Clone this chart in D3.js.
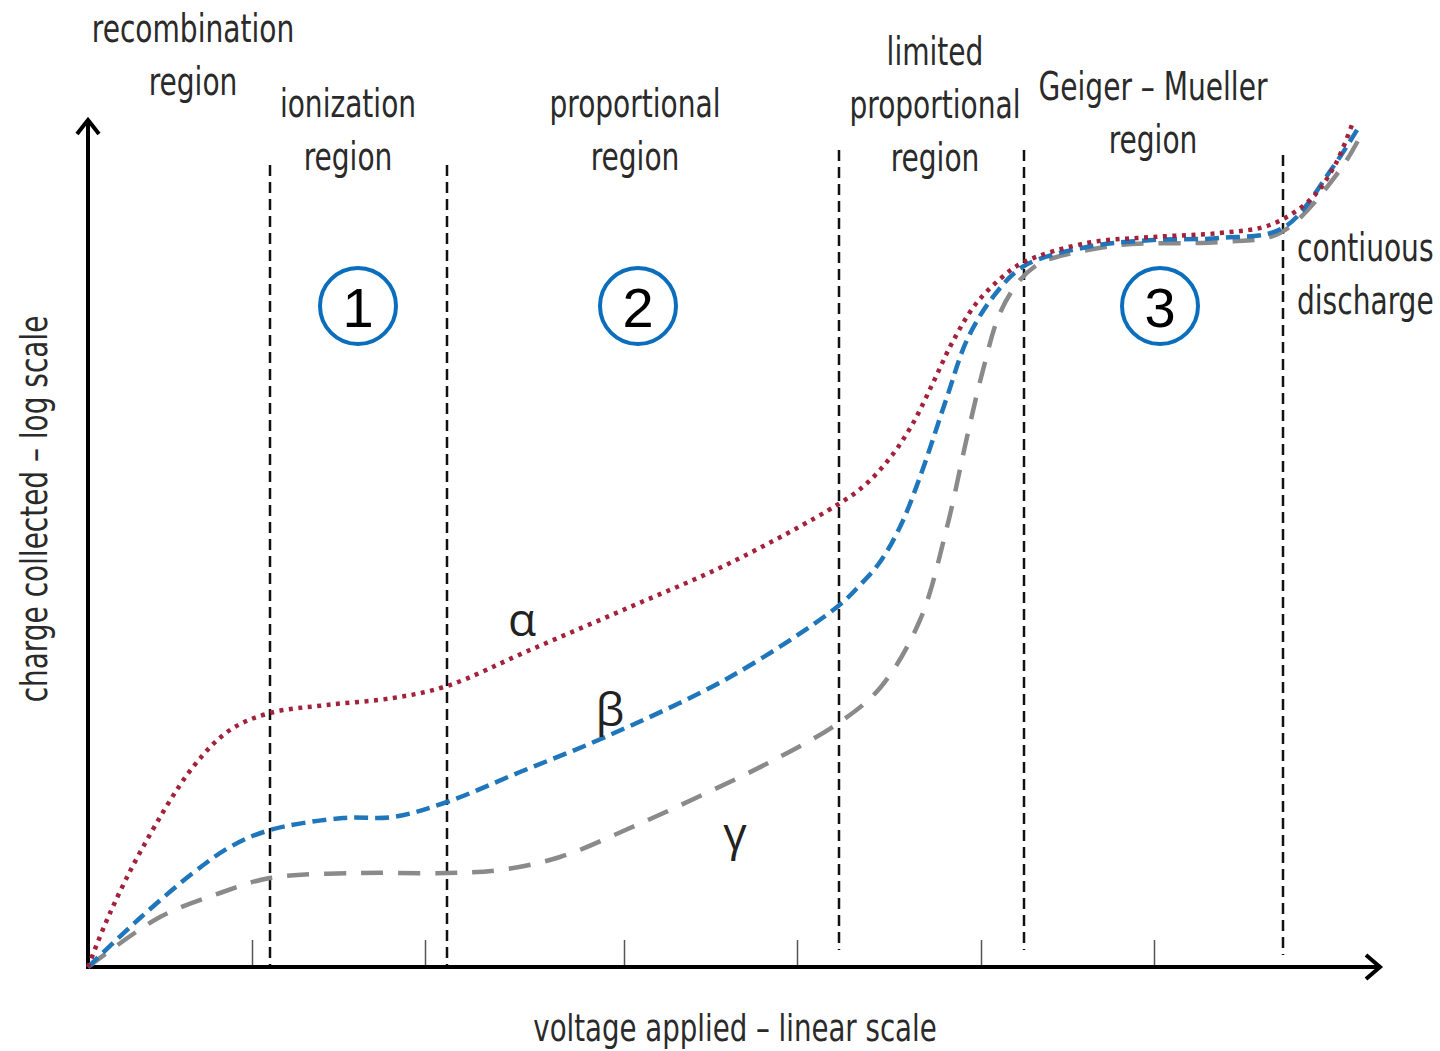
<!DOCTYPE html>
<html>
<head>
<meta charset="utf-8">
<script src="https://cdn.jsdelivr.net/npm/d3@7"></script>
<style>
  body { margin: 0; background: #fff; }
  text.lbl { font-family: "DejaVu Sans Condensed", "DejaVu Sans", sans-serif; fill: #2a2a2a; }
</style>
</head>
<body>
<div id="chart"></div>
<script>
// curves: [voltage, charge] (arbitrary units)
const alpha = [[0,0],[22,54],[55,120],[105,200],[142,237],[182,254],[239,262],[305,269],[359,281],
  [442,317],[542,360],[642,404],[749,462],[777,482],[802,509],[824,542],[844,582],[864,624],
  [887,662],[912,688],[936,705],[999,724],[1065,730],[1132,734],[1182,742],[1222,767],[1247,802],[1265,845]]
const beta = [[0,0],[52,49],[105,94],[142,120],[182,137],[255,149],[305,150],[359,165],[432,195],
  [515,229],[642,290],[749,360],[772,382],[792,405],[812,440],[832,490],[859,570],[879,627],
  [905,670],[936,701],[999,720],[1065,727],[1132,729],[1195,739],[1245,800],[1272,842]]
const gamma = [[0,0],[72,50],[132,74],[182,89],[272,94],[359,94],[412,97],[472,110],[542,139],
  [612,171],[682,205],[749,243],[792,279],[832,347],[859,440],[879,530],[895,597],[912,654],
  [932,687],[952,704],[965,709],[1032,722],[1132,725],[1192,734],[1252,797],[1274,834]]

// region boundaries (voltage) and their vertical extent (charge)
const boundaries = [182, 359, 751, 936, 1195]
const boundaryTop = [802, 802, 817, 817, 812]
const boundaryBottom = [2, 2, 17, 17, 12]
const minorTicks = [164, 337, 536, 709, 893, 1066]

const regionLabels = [
  { lines: ["recombination", "region"], v: 105, c: 925 },
  { lines: ["ionization", "region"], v: 260, c: 850 },
  { lines: ["proportional", "region"], v: 547, c: 850 },
  { lines: ["limited", "proportional", "region"], v: 847, c: 902 },
  { lines: ["Geiger – Mueller", "region"], v: 1065, c: 867 },
]
const sideLabel = { lines: ["contiuous", "discharge"], v: 1209, c: 706 }
const numbers = [{ n: "1", v: 270 }, { n: "2", v: 550 }, { n: "3", v: 1072 }]
const greek = [{ t: "α", v: 434, c: 331 }, { t: "β", v: 522, c: 241 }, { t: "γ", v: 647, c: 117 }]

const width = 1440, height = 1051
const x = d3.scaleLinear().domain([0, 1292]).range([88, 1380])
const y = d3.scaleLinear().domain([0, 847]).range([967, 120])

const svg = d3.select("#chart").append("svg")
  .attr("width", width).attr("height", height)

// minor ticks along the voltage axis
const axis = d3.axisBottom(x).tickValues(minorTicks).tickSize(-27).tickFormat("")
svg.append("g").attr("transform", `translate(0,${y(0)})`).call(axis)
  .call(g => g.select(".domain").remove())
  .selectAll("line").attr("stroke", "#555").attr("stroke-width", 1.5)

// dashed region boundaries
svg.selectAll("line.bound").data(boundaries).enter().append("line")
  .attr("class", "bound")
  .attr("x1", d => x(d)).attr("x2", d => x(d))
  .attr("y1", (d, i) => y(boundaryTop[i])).attr("y2", (d, i) => y(boundaryBottom[i]))
  .attr("stroke", "#111").attr("stroke-width", 2.5).attr("stroke-dasharray", "11,6")

// axes with open arrowheads
const axisPath = d3.path()
axisPath.moveTo(x(0), y(847)); axisPath.lineTo(x(0), y(0)); axisPath.lineTo(x(1292), y(0))
svg.append("path").attr("d", axisPath.toString()).attr("fill", "none")
  .attr("stroke", "#000").attr("stroke-width", 4)
const arrows = d3.path()
arrows.moveTo(x(0) - 11, y(847) + 14); arrows.lineTo(x(0), y(847)); arrows.lineTo(x(0) + 11, y(847) + 14)
arrows.moveTo(x(1292) - 14, y(0) - 12); arrows.lineTo(x(1292), y(0)); arrows.lineTo(x(1292) - 14, y(0) + 12)
svg.append("path").attr("d", arrows.toString()).attr("fill", "none")
  .attr("stroke", "#000").attr("stroke-width", 4).attr("stroke-linejoin", "miter")

// curves
const line = d3.line().x(d => x(d[0])).y(d => y(d[1])).curve(d3.curveCatmullRom.alpha(0.5))
const series = [
  { data: gamma, color: "#8a8a8a", dash: "22,15" },
  { data: beta, color: "#1f76bb", dash: "14,7" },
  { data: alpha, color: "#a3213a", dash: "4,5.5" },
]
svg.selectAll("path.curve").data(series).enter().append("path")
  .attr("class", "curve")
  .attr("d", d => line(d.data))
  .attr("fill", "none")
  .attr("stroke", d => d.color)
  .attr("stroke-width", 4.5)
  .attr("stroke-dasharray", d => d.dash)

// greek labels
svg.selectAll("text.greek").data(greek).enter().append("text")
  .attr("x", d => x(d.v)).attr("y", d => y(d.c))
  .attr("text-anchor", "middle")
  .style("font-family", "'Open Sans', 'Noto Sans', sans-serif")
  .style("font-size", "46px").attr("fill", "#222")
  .text(d => d.t)

// numbered circles
const circ = svg.selectAll("g.num").data(numbers).enter().append("g")
  .attr("transform", d => `translate(${x(d.v)},${y(661)})`)
circ.append("circle").attr("r", 38).attr("fill", "#fff")
  .attr("stroke", "#0a6ebd").attr("stroke-width", 4)
circ.append("text").attr("text-anchor", "middle").attr("y", 21)
  .style("font-family", "'Liberation Sans', Arial, sans-serif").style("font-size", "56px")
  .attr("fill", "#000").text(d => d.n)

// region labels (narrow lettering: squeeze horizontally)
const drawLabel = (lab, anchor) => {
  const t = svg.append("text").attr("class", "lbl")
    .attr("transform", `translate(${x(lab.v)},${y(lab.c)}) scale(0.8,1)`)
    .attr("text-anchor", anchor).style("font-size", "39px")
  lab.lines.forEach((s, i) => t.append("tspan").attr("x", 0).attr("dy", i ? 53 : 0).text(s))
}
regionLabels.forEach(l => drawLabel(l, "middle"))
drawLabel(sideLabel, "start")

// axis titles
svg.append("text").attr("class", "lbl")
  .attr("transform", "translate(735,1041) scale(0.83,1)").attr("text-anchor", "middle")
  .style("font-size", "37px").text("voltage applied – linear scale")
svg.append("text").attr("class", "lbl")
  .attr("transform", "translate(47,509) rotate(-90) scale(0.84,1)").attr("text-anchor", "middle")
  .style("font-size", "37px").text("charge collected – log scale")
</script>
</body>
</html>
